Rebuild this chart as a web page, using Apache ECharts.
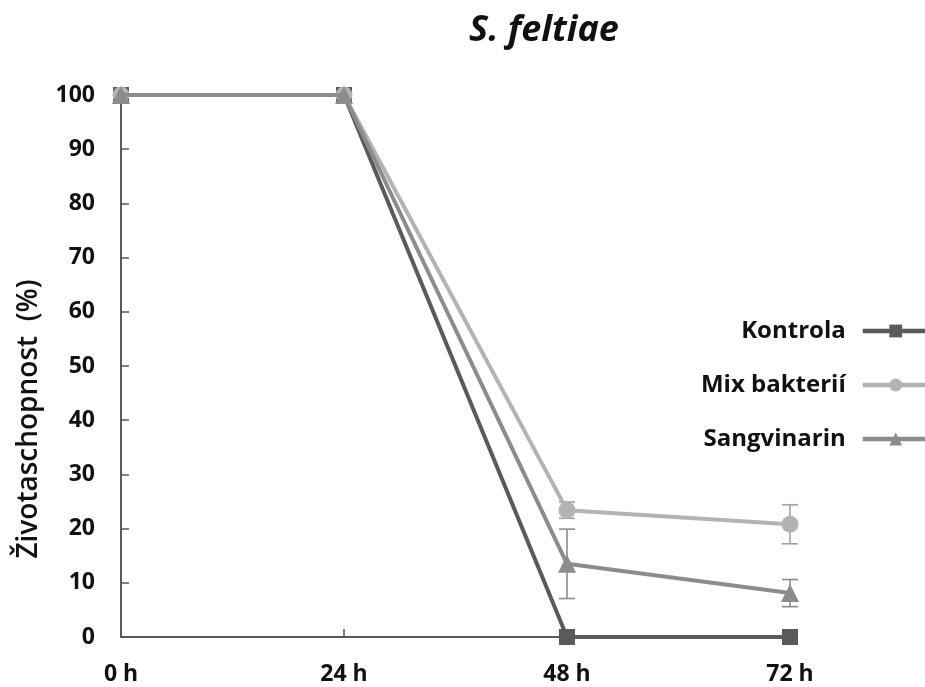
<!DOCTYPE html>
<html>
<head>
<meta charset="utf-8">
<script src="https://cdn.jsdelivr.net/npm/echarts@6/dist/echarts.min.js"></script>
<style>
  html, body { margin: 0; padding: 0; background: #fff; }
  #chart { width: 925px; height: 687px; }
</style>
</head>
<body>
<div id="chart"></div>
<script>
// Survival of S. feltiae over time for three treatments
const categories = ['0 h', '24 h', '48 h', '72 h'];
const yTicks = [0, 10, 20, 30, 40, 50, 60, 70, 80, 90, 100];

const kontrola = [100, 100, 0, 0];
const mixBakterii = [100, 100, 23.4, 20.8];
const sangvinarin = [100, 100, 13.5, 8.1];

// Standard deviations (symmetric error bars)
const mixErr = [0, 0, 1.5, 3.6];
const sangvinarinErr = [0, 0, 6.4, 2.5];

const cDark = '#5a5a5a';
const cLight = '#b3b3b3';
const cMid = '#8c8c8c';
const font = '"Open Sans", "Noto Sans", sans-serif';

function errorSeries(values, errs, color) {
  const data = values.map((v, i) => [i, v - errs[i], v + errs[i]]).filter((d, i) => errs[i] > 0);
  return {
    type: 'custom',
    silent: true,
    z: 1,
    renderItem: function (params, api) {
      const x = api.value(0);
      const lo = api.coord([x, api.value(1)]);
      const hi = api.coord([x, api.value(2)]);
      const half = 8;
      const style = { stroke: color, lineWidth: 1.6 };
      return {
        type: 'group',
        children: [
          { type: 'line', shape: { x1: lo[0], y1: lo[1], x2: hi[0], y2: hi[1] }, style },
          { type: 'line', shape: { x1: lo[0] - half, y1: lo[1], x2: lo[0] + half, y2: lo[1] }, style },
          { type: 'line', shape: { x1: hi[0] - half, y1: hi[1], x2: hi[0] + half, y2: hi[1] }, style }
        ]
      };
    },
    data: data
  };
}

const chart = echarts.init(document.getElementById('chart'));
chart.setOption({
  animation: false,
  backgroundColor: '#fff',
  title: {
    text: 'S. feltiae',
    left: 539,
    top: 8,
    textAlign: 'center',
    textStyle: { fontFamily: font, fontStyle: 'italic', fontWeight: 'bold', fontSize: 36, color: '#111' }
  },
  graphic: [{
    type: 'text',
    x: 29,
    y: 419,
    rotation: Math.PI / 2,
    style: {
      text: 'Životaschopnost  (%)',
      fontFamily: font,
      fontWeight: 600,
      fontSize: 28,
      fill: '#111',
      align: 'center',
      verticalAlign: 'middle'
    }
  }],
  grid: { left: 121, right: 135, top: 95, bottom: 50, containLabel: false },
  legend: {
    orient: 'vertical',
    right: -11,
    top: 314,
    align: 'right',
    itemWidth: 66,
    itemHeight: 16,
    itemGap: 30,
    lineStyle: { width: 4.5 },
    textStyle: { fontFamily: font, fontWeight: 'bold', fontSize: 24, color: '#111', padding: [0, 12, 0, 0] },
    data: ['Kontrola', 'Mix bakterií', 'Sangvinarin']
  },
  xAxis: {
    type: 'category',
    data: categories,
    boundaryGap: false,
    axisLine: { lineStyle: { color: cDark, width: 2 } },
    axisTick: { inside: true, length: 8, lineStyle: { color: cDark, width: 1.5 } },
    axisLabel: { margin: 26, fontFamily: font, fontWeight: 'bold', fontSize: 23, color: '#111' },
    splitLine: { show: false }
  },
  yAxis: {
    type: 'value',
    min: 0,
    max: 100,
    interval: 10,
    axisLine: { show: true, lineStyle: { color: cDark, width: 2 } },
    axisTick: { show: true, inside: true, length: 8, lineStyle: { color: cDark, width: 1.5 } },
    axisLabel: {
      margin: 26, fontFamily: font, fontWeight: 'bold', fontSize: 23, color: '#111',
      formatter: v => (yTicks.indexOf(v) >= 0 ? String(v) : '')
    },
    splitLine: { show: false }
  },
  series: [
    errorSeries(mixBakterii, mixErr, '#a0a0a0'),
    errorSeries(sangvinarin, sangvinarinErr, '#8c8c8c'),
    {
      name: 'Kontrola',
      type: 'line',
      data: kontrola,
      z: 3,
      symbol: 'rect',
      symbolSize: 16,
      lineStyle: { color: cDark, width: 4 },
      itemStyle: { color: cDark },
      emphasis: { disabled: true }
    },
    {
      name: 'Mix bakterií',
      type: 'line',
      data: mixBakterii,
      z: 4,
      symbol: 'circle',
      symbolSize: 17,
      lineStyle: { color: cLight, width: 4 },
      itemStyle: { color: cLight },
      emphasis: { disabled: true }
    },
    {
      name: 'Sangvinarin',
      type: 'line',
      data: sangvinarin,
      z: 5,
      symbol: 'triangle',
      symbolSize: 18,
      lineStyle: { color: cMid, width: 4 },
      itemStyle: { color: cMid },
      emphasis: { disabled: true }
    }
  ]
});
</script>
</body>
</html>
